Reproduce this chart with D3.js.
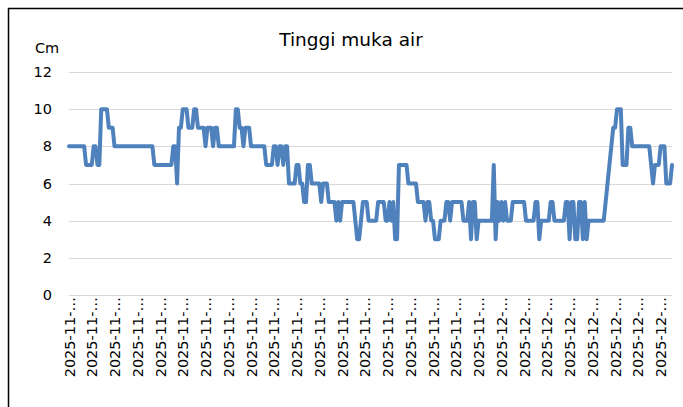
<!DOCTYPE html>
<html>
<head>
<meta charset="utf-8">
<script src="https://cdn.jsdelivr.net/npm/d3@7"></script>
<style>
  html, body { margin: 0; padding: 0; background: #fff; }
  svg { display: block; }
  text { font-family: "DejaVu Sans", Verdana, sans-serif; fill: #000; }
</style>
</head>
<body>
<svg id="chart" width="683" height="407"></svg>
<script>
// ---- data (one reading every 2 hours) ----
const chartTitle = "Tinggi muka air";
const yUnit = "Cm";
const yTicks = [0, 2, 4, 6, 8, 10, 12];
const firstReading = "2025-11-12 00:00";
const readingStepHours = 2;
const tickEvery = 12;
const tickLabels = [
  "2025-11-12", "2025-11-13", "2025-11-14", "2025-11-15", "2025-11-16", "2025-11-17",
  "2025-11-18", "2025-11-19", "2025-11-20", "2025-11-21", "2025-11-22", "2025-11-23",
  "2025-11-24", "2025-11-25", "2025-11-26", "2025-11-27", "2025-11-28", "2025-11-29",
  "2025-11-30", "2025-12-01", "2025-12-02", "2025-12-03", "2025-12-04", "2025-12-05",
  "2025-12-06", "2025-12-07", "2025-12-08"
];
const waterLevel = [
  8,8,8,8,8,8,8,8,8, 7,7,7,7, 8,8, 7,7, 10,10,10,10, 9,9,9,
  8,8,8,8,8,8,8,8,8,8,8,8,8,8,8,8,8,8,8,8,8,
  7,7,7,7,7,7,7,7,7,7, 8,8, 6, 9,9, 10,10,10, 9,9,9, 10,10, 9,9,9,9, 8, 9,9,9, 8, 9,9,
  8,8,8,8,8,8,8,8,8, 10,10, 9,9, 8, 9,9,9,
  8,8,8,8,8,8,8,8, 7,7,7,7, 8,8,7,8,8,7,8,8,
  6,6,6,6, 7,7, 6,6, 5,5, 7,7, 6,6,6,6,6, 5, 6,6,6, 5,5,5,5, 4,5,4,
  5,5,5,5,5,5,5, 4, 3,3, 4, 5,5,5, 4,4,4,4,4, 5,5,5,5, 4,4, 5,4,5, 3,3,
  7,7,7,7,7, 6,6,6,6,6, 5,5,5,5, 4, 5,5, 4,4, 3,3,3, 4,4,4, 5,5,4,5, 5,5,5,5,5,
  4,4,4, 5, 3, 5,5, 3, 4,4,4,4,4,4,4,4, 7, 3, 5,4,5,4,5, 4,4,4, 5,5,5,5,5,5,5,
  4,4,4,4,4, 5,5, 3, 4,4,4,4,4, 5,5, 4,4,4,4,4,4,
  5,5,3,5,5,3,3,5,5,3,5,3, 4,4,4,4,4,4,4,4,4,
  5,6,7,8, 9,9, 10,10,10, 7,7,7, 9,9, 8,8,8,8,8,8,8,8,8,8, 7, 6, 7,7,7, 8,8,8, 6,6,6, 7
];

// categories: one timestamp per reading
const parse = d3.timeParse("%Y-%m-%d %H:%M");
const fmt = d3.timeFormat("%Y-%m-%d %H:%M");
const start = parse(firstReading);
const categories = waterLevel.map((_, i) => fmt(d3.timeHour.offset(start, i * readingStepHours)));

// ---- layout ----
const plot = { left: 69, right: 672, top: 72, bottom: 295 };
const svg = d3.select("#chart");

// outer chart border (clipped at right/bottom like the reference)
svg.append("rect")
  .attr("x", 8.5).attr("y", 8.5)
  .attr("width", 690).attr("height", 420)
  .attr("fill", "none").attr("stroke", "#000").attr("stroke-width", 1.5);

const x = d3.scalePoint().domain(categories).range([plot.left, plot.right]);
const y = d3.scaleLinear().domain([0, 12]).range([plot.bottom, plot.top]);

// gridlines
svg.append("g")
  .selectAll("line").data(yTicks).join("line")
  .attr("x1", plot.left).attr("x2", plot.right)
  .attr("y1", d => Math.round(y(d)) + 0.5).attr("y2", d => Math.round(y(d)) + 0.5)
  .attr("stroke", "#d9d9d9").attr("stroke-width", 1.2);

// y axis labels
const yAxis = d3.axisLeft(y).tickValues(yTicks).tickSize(0).tickPadding(0);
svg.append("g")
  .attr("transform", `translate(${plot.left - 17},0)`)
  .call(yAxis)
  .call(g => g.select(".domain").remove())
  .call(g => g.selectAll("text").style("font-size", "14.5px")
     .style("font-family", '"DejaVu Sans", Verdana, sans-serif').attr("fill", "#000"));

// x axis labels (every 12th reading = one per day, truncated like the reference)
const tickCats = categories.filter((_, i) => i % tickEvery === 0);
const labelOf = new Map(tickCats.map((c, k) => [c, tickLabels[k]]));
const xAxis = d3.axisBottom(x).tickValues(tickCats).tickSize(0).tickPadding(0)
  .tickFormat(c => labelOf.get(c).slice(0, 8) + "\u2026");
svg.append("g")
  .attr("transform", `translate(0,${plot.bottom})`)
  .call(xAxis)
  .call(g => g.select(".domain").remove())
  .call(g => g.selectAll("text")
     .style("font-size", "14.5px")
     .style("font-family", '"DejaVu Sans", Verdana, sans-serif')
     .attr("fill", "#000")
     .attr("text-anchor", "end")
     .attr("transform", "rotate(-90)")
     .attr("x", -2).attr("y", 0).attr("dy", "0.35em"));

// line
const line = d3.line()
  .x((d, i) => x(categories[i]))
  .y(d => y(d));
svg.append("path")
  .datum(waterLevel)
  .attr("d", line)
  .attr("fill", "none")
  .attr("stroke", "#4f81bd")
  .attr("stroke-width", 4)
  .attr("stroke-linejoin", "round")
  .attr("stroke-linecap", "round");

// title and unit
svg.append("text")
  .attr("x", 351).attr("y", 46)
  .attr("text-anchor", "middle")
  .style("font-size", "18.5px")
  .text(chartTitle);
svg.append("text")
  .attr("x", 35).attr("y", 53)
  .style("font-size", "14.5px")
  .text(yUnit);
</script>
</body>
</html>
